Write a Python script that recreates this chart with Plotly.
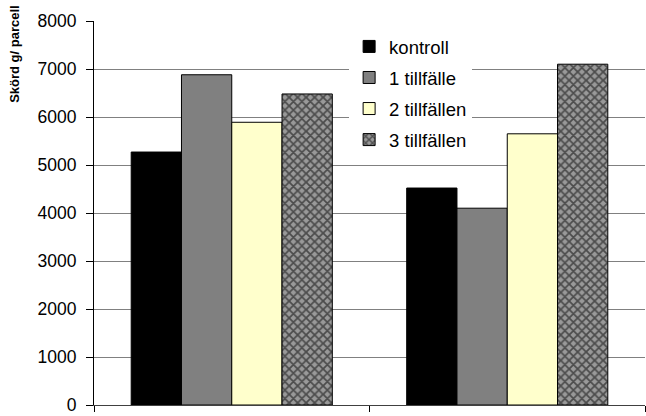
import plotly.graph_objects as go

# Two trials, four irrigation treatments
categories = ["Försök 1", "Försök 2"]
series_names = ["kontroll", "1 tillfälle", "2 tillfällen", "3 tillfällen"]
kontroll = [5270, 4520]
tillfalle_1 = [6880, 4100]
tillfallen_2 = [5890, 5650]
tillfallen_3 = [6480, 7100]
y_ticks = [0, 1000, 2000, 3000, 4000, 5000, 6000, 7000, 8000]
y_title = "Skörd g/ parcell"

values = [kontroll, tillfalle_1, tillfallen_2, tillfallen_3]
fills = ["#000000", "#808080", "#FFFFCC", "#808080"]

fig = go.Figure()
for i, (name, vals, col) in enumerate(zip(series_names, values, fills)):
    marker = dict(color=col, line=dict(color="#000000", width=1))
    if i == 3:
        marker["pattern"] = dict(shape="x", fgcolor="#000000", bgcolor="#999999",
                                 size=6, solidity=0.5, fillmode="overlay")
    fig.add_trace(go.Bar(x=categories, y=vals, name=name, marker=marker,
                         legendgroup=name))

fig.update_layout(
    width=646, height=416,
    margin=dict(l=94, r=1, t=21, b=9),
    paper_bgcolor="white", plot_bgcolor="white",
    barmode="group", bargap=0.27, bargroupgap=0,
    font=dict(family="Liberation Sans, Arial", size=17, color="#000000"),
    legend=dict(x=0.463, y=0.982, xanchor="left", yanchor="top",
                bgcolor="white", traceorder="grouped", tracegroupgap=4,
                font=dict(size=18.5), itemwidth=30),
    showlegend=True,
)
fig.update_xaxes(
    showticklabels=False, tickson="boundaries", ticks="outside", ticklen=6,
    tickcolor="#000000", showline=True, linecolor="#404040", linewidth=1,
    showgrid=False, mirror=False,
)
fig.update_yaxes(
    range=[0, 8000], tickvals=y_ticks, ticks="outside", ticklen=7,
    tickcolor="#000000", showline=True, linecolor="#000000", linewidth=1,
    showgrid=True, gridcolor="#808080", gridwidth=1, zeroline=False,
    tickfont=dict(size=17.5), ticklabelstandoff=6, ticklabeloverflow="allow",
)

# Axis title sits at the top of the value axis, rotated
fig.add_annotation(
    text="<b>" + y_title + "</b>", textangle=-90,
    xref="paper", yref="paper",
    x=(15 - 94) / 551, y=1 - (54 - 21) / 386,
    xanchor="center", yanchor="middle", showarrow=False,
    font=dict(family="Liberation Sans, Arial", size=13),
)

fig.write_html("out.html")
